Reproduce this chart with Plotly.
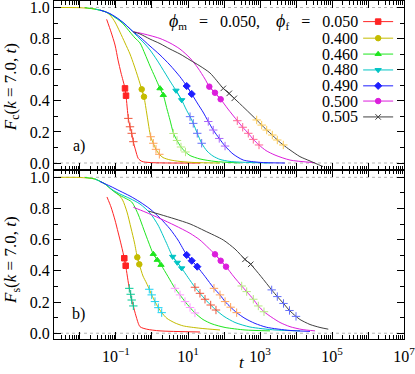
import plotly.graph_objects as go

# ---------------------------------------------------------------------------
# Values.
# For every series: time t, correlator F, indices of the filled symbols,
# indices of the thin "+" marks.
# ---------------------------------------------------------------------------

# ---- panel a) coherent F_c(k=7.0, t) ----
RED_A_T = [0.055, 0.073, 0.094, 0.114, 0.138, 0.178, 0.190, 0.220, 0.245, 0.273, 0.303,
           0.348, 0.416, 0.527, 0.880, 3.16, 21.5]
RED_A_F = [0.924, 0.842, 0.759, 0.662, 0.579, 0.480, 0.433, 0.287, 0.233, 0.191, 0.137,
           0.084, 0.029, 0.010, 0.003, 0.0, 0.0]
RED_A_MARK = [5, 6]
RED_A_PLUS = [7, 8, 9, 10]

YEL_A_T = [0.00245, 0.01, 0.0261, 0.0495, 0.0681, 0.0938, 0.129, 0.178, 0.245, 0.316, 0.416,
           0.518, 0.599, 0.726, 0.920, 1.087, 1.29, 1.60, 2.02, 3.16, 5.99, 15.6, 77.4]
YEL_A_F = [1.0, 0.999, 0.990, 0.974, 0.952, 0.907, 0.842, 0.772, 0.701, 0.630, 0.546,
           0.474, 0.426, 0.309, 0.169, 0.127, 0.088, 0.056, 0.035, 0.020, 0.010, 0.003, 0.0]
YEL_A_MARK = [11, 12]
YEL_A_PLUS = [14, 15, 16, 17]

GRN_A_T = [0.0138, 0.0261, 0.0495, 0.0681, 0.0938, 0.129, 0.178, 0.245, 0.337, 0.464, 0.639,
           0.880, 1.21, 1.67, 2.06, 2.61, 3.16, 3.96, 4.95, 6.38, 8.51, 11.4, 21.5, 56.2, 278]
GRN_A_F = [0.999, 0.990, 0.974, 0.958, 0.936, 0.913, 0.881, 0.842, 0.804, 0.772, 0.701,
           0.624, 0.553, 0.480, 0.437, 0.347, 0.277, 0.190, 0.145, 0.103, 0.071, 0.048,
           0.026, 0.010, 0.0]
GRN_A_MARK = [13, 14]
GRN_A_PLUS = [17, 18, 19, 20]

CYA_A_T = [0.0261, 0.0495, 0.0938, 0.178, 0.337, 0.639, 0.880, 1.38, 2.30, 3.16, 4.64, 6.68,
           8.80, 11.4, 14.0, 18.1, 24.0, 33.7, 49.3, 77.4, 147, 527, 1896]
CYA_A_F = [0.990, 0.974, 0.939, 0.894, 0.830, 0.765, 0.727, 0.662, 0.579, 0.527, 0.466, 0.405,
           0.347, 0.298, 0.255, 0.191, 0.127, 0.077, 0.045, 0.023, 0.010, 0.003, 0.0]
CYA_A_MARK = [10, 11]
CYA_A_PLUS = [13, 14, 15, 16]

BLU_A_T = [0.0359, 0.0681, 0.129, 0.303, 0.464, 0.880, 1.67, 3.16, 5.99, 9.20, 12.7, 18.9,
           26.1, 36.6, 50.3, 73.8, 107, 178, 344, 1000, 4920]
BLU_A_F = [0.984, 0.961, 0.920, 0.844, 0.810, 0.752, 0.695, 0.630, 0.555, 0.495, 0.444, 0.379,
           0.328, 0.267, 0.212, 0.158, 0.109, 0.058, 0.019, 0.004, 0.0]
BLU_A_MARK = [9, 10]
BLU_A_PLUS = [13, 14, 15, 16]

MAG_A_T = [0.303, 0.464, 0.880, 1.67, 3.16, 5.99, 11.4, 18.9, 29.7, 39.1, 56.2, 80.9, 129,
           234, 331, 473, 652, 938, 1468, 2610, 6813, 33700]
MAG_A_F = [0.844, 0.836, 0.820, 0.801, 0.772, 0.733, 0.675, 0.611, 0.540, 0.491, 0.452, 0.410,
           0.347, 0.272, 0.230, 0.191, 0.152, 0.116, 0.080, 0.051, 0.019, 0.002]
MAG_A_MARK = [9, 10, 11]
MAG_A_PLUS = [13, 14, 15, 16, 17]

BLK_A_T = [0.303, 0.464, 0.880, 1.67, 3.16, 5.99, 11.4, 21.5, 40.8, 95.6, 140, 193, 383, 809,
           1114, 1535, 2197, 3027, 4437, 6813, 12900, 24500, 56200]
BLK_A_F = [0.844, 0.830, 0.797, 0.768, 0.733, 0.701, 0.662, 0.624, 0.579, 0.480, 0.448, 0.416,
           0.350, 0.277, 0.244, 0.212, 0.180, 0.148, 0.116, 0.084, 0.041, 0.013, -0.023]
BLK_A_MARK = [9, 10, 11]
BLK_A_PLUS = [13, 14, 15, 16, 17, 18]

# ---- panel b) self part F_s(k=7.0, t) ----
RED_B_T = [0.0562, 0.0726, 0.0938, 0.114, 0.142, 0.170, 0.186, 0.234, 0.256, 0.273, 0.303,
           0.359, 0.464, 0.713, 1.67, 21.5]
RED_B_F = [0.874, 0.810, 0.726, 0.649, 0.560, 0.481, 0.433, 0.288, 0.250, 0.213, 0.175,
           0.111, 0.042, 0.026, 0.015, 0.008]
RED_B_MARK = [5, 6]
RED_B_PLUS = [7, 8, 9, 10]

YEL_B_T = [0.00245, 0.01, 0.0261, 0.0495, 0.0774, 0.114, 0.153, 0.202, 0.261, 0.327, 0.391,
           0.444, 0.562, 0.703, 0.841, 0.981, 1.21, 1.50, 1.86, 2.61, 4.35, 7.40, 21.5, 77.4]
YEL_B_F = [1.0, 0.999, 0.989, 0.957, 0.919, 0.893, 0.854, 0.778, 0.675, 0.579, 0.487,
           0.442, 0.367, 0.322, 0.282, 0.246, 0.203, 0.164, 0.132, 0.095, 0.066, 0.047,
           0.032, 0.021]
YEL_B_MARK = [10, 11]
YEL_B_PLUS = [14, 15, 16, 17, 18]

GRN_B_T = [0.0138, 0.0261, 0.0495, 0.0774, 0.114, 0.178, 0.273, 0.409, 0.599, 0.799, 1.087,
           1.40, 1.78, 2.78, 4.35, 5.99, 8.25, 11.4, 15.6, 26.1, 46.4, 107, 383, 1896]
GRN_B_F = [0.999, 0.989, 0.957, 0.919, 0.890, 0.867, 0.842, 0.765, 0.662, 0.585, 0.508,
           0.470, 0.438, 0.364, 0.288, 0.246, 0.203, 0.165, 0.130, 0.088, 0.060, 0.037,
           0.021, 0.015]
GRN_B_MARK = [10, 11, 12]
GRN_B_PLUS = [14, 15, 16, 17, 18]

CYA_B_T = [0.0261, 0.0495, 0.0774, 0.129, 0.245, 0.464, 0.880, 1.47, 2.45, 3.76, 5.04, 6.68,
           10.0, 15.6, 21.5, 29.7, 42.7, 59.9, 100, 202, 528, 2610, 12900]
CYA_B_F = [0.989, 0.957, 0.922, 0.893, 0.864, 0.829, 0.771, 0.694, 0.585, 0.491, 0.453, 0.417,
           0.358, 0.295, 0.256, 0.218, 0.181, 0.149, 0.108, 0.069, 0.040, 0.021, 0.015]
CYA_B_MARK = [9, 10, 11]
CYA_B_PLUS = [13, 14, 15, 16, 17]

BLU_B_T = [0.0359, 0.0681, 0.129, 0.245, 0.464, 0.880, 1.67, 3.16, 5.27, 9.20, 12.7, 18.1,
           29.7, 52.7, 77.4, 107, 153, 225, 383, 726, 1535, 6813, 24500]
BLU_B_F = [0.973, 0.944, 0.912, 0.880, 0.842, 0.797, 0.739, 0.669, 0.598, 0.502, 0.465, 0.427,
           0.364, 0.288, 0.246, 0.203, 0.167, 0.132, 0.095, 0.063, 0.038, 0.018, 0.012]
BLU_B_MARK = [9, 10, 11]
BLU_B_PLUS = [13, 14, 15, 16, 17]

MAG_B_T = [0.303, 0.639, 1.67, 4.35, 11.4, 21.5, 35.9, 56.2, 80.9, 114, 190, 310, 427, 652,
           897, 1291, 2154, 3594, 6813, 14700, 33700]
MAG_B_F = [0.808, 0.778, 0.736, 0.691, 0.641, 0.598, 0.550, 0.506, 0.465, 0.427, 0.361, 0.303,
           0.267, 0.218, 0.175, 0.138, 0.101, 0.069, 0.042, 0.024, 0.015]
MAG_B_MARK = [7, 8, 9]
MAG_B_PLUS = [11, 12, 13, 14, 15]

BLK_B_T = [0.789, 1.67, 4.35, 11.4, 29.7, 95.6, 202, 383, 552, 1066, 2113, 3027, 4496, 6596,
           10000, 12900, 24500, 46400, 78900]
BLK_B_F = [0.784, 0.762, 0.733, 0.701, 0.656, 0.598, 0.540, 0.474, 0.442, 0.364, 0.278, 0.235,
           0.191, 0.146, 0.108, 0.088, 0.056, 0.037, 0.026]
BLK_B_MARK = [7, 8]
BLK_B_PLUS = [10, 11, 12, 13, 14]

PHI_M = "0.050"
PHI_F = ["0.050", "0.400", "0.460", "0.480", "0.490", "0.500", "0.505"]

# styles
COLORS = ["#ff2424", "#c4bc00", "#1ee61e", "#00c4c4", "#1e1eff", "#dc1edc", "#404040"]
SYMBOLS = ["square", "circle", "triangle-up", "triangle-down", "diamond", "circle", "x-thin-open"]
FONT = "Liberation Serif"
ROWS_Y = [0.939, 0.890, 0.843, 0.796, 0.749, 0.704, 0.657]   # legend rows (paper coords)

PANEL_A = [
    (RED_A_T, RED_A_F, RED_A_MARK, RED_A_PLUS),
    (YEL_A_T, YEL_A_F, YEL_A_MARK, YEL_A_PLUS),
    (GRN_A_T, GRN_A_F, GRN_A_MARK, GRN_A_PLUS),
    (CYA_A_T, CYA_A_F, CYA_A_MARK, CYA_A_PLUS),
    (BLU_A_T, BLU_A_F, BLU_A_MARK, BLU_A_PLUS),
    (MAG_A_T, MAG_A_F, MAG_A_MARK, MAG_A_PLUS),
    (BLK_A_T, BLK_A_F, BLK_A_MARK, BLK_A_PLUS),
]
PANEL_B = [
    (RED_B_T, RED_B_F, RED_B_MARK, RED_B_PLUS),
    (YEL_B_T, YEL_B_F, YEL_B_MARK, YEL_B_PLUS),
    (GRN_B_T, GRN_B_F, GRN_B_MARK, GRN_B_PLUS),
    (CYA_B_T, CYA_B_F, CYA_B_MARK, CYA_B_PLUS),
    (BLU_B_T, BLU_B_F, BLU_B_MARK, BLU_B_PLUS),
    (MAG_B_T, MAG_B_F, MAG_B_MARK, MAG_B_PLUS),
    (BLK_B_T, BLK_B_F, BLK_B_MARK, BLK_B_PLUS),
]


def legend_id(k):
    return "legend" if k == 0 else "legend%d" % (k + 1)


def add_series(fig, t, f, mark_idx, plus_idx, color, symbol, xa, ya, leg):
    # full curve
    fig.add_trace(go.Scatter(
        x=t, y=f, mode="lines", xaxis=xa, yaxis=ya,
        line=dict(color=color, width=1, shape="spline", smoothing=0.7),
        showlegend=False, hoverinfo="skip"))
    # thin "+" marks along the decay
    fig.add_trace(go.Scatter(
        x=[t[i] for i in plus_idx], y=[f[i] for i in plus_idx],
        mode="markers", xaxis=xa, yaxis=ya,
        marker=dict(symbol="cross-thin-open", size=6, line=dict(color=color, width=1)),
        showlegend=False, hoverinfo="skip"))
    # filled symbols (also the legend key)
    fig.add_trace(go.Scatter(
        x=[t[i] for i in mark_idx], y=[f[i] for i in mark_idx],
        mode="lines+markers", xaxis=xa, yaxis=ya, name="",
        line=dict(color=color, width=1),
        marker=dict(symbol=symbol, size=5.5, color=color, line=dict(color=color, width=1)),
        showlegend=leg is not None, legend=leg or "legend", hoverinfo="skip"))


fig = go.Figure()
for i, (t, f, mk, pl) in enumerate(PANEL_A):
    add_series(fig, t, f, mk, pl, COLORS[i], SYMBOLS[i], "x", "y", legend_id(i))
for i, (t, f, mk, pl) in enumerate(PANEL_B):
    add_series(fig, t, f, mk, pl, COLORS[i], SYMBOLS[i], "x2", "y2", None)

major = [10.0 ** k for k in range(-2, 8)]
major_txt = ["10<sup>%s</sup>" % str(k).replace("-", "\u2212") if k % 2 else "" for k in range(-2, 8)]
minor = [m * 10.0 ** k for k in range(-3, 7) for m in range(2, 10)]

xcommon = dict(
    type="log", range=[-2.722, 7], showline=True, linecolor="black", linewidth=1,
    mirror="ticks", ticks="inside", ticklen=7, tickcolor="black", tickwidth=1,
    tickmode="array", tickvals=major, ticktext=major_txt, showgrid=False, zeroline=False,
    minor=dict(tickvals=minor, ticks="inside", ticklen=4, tickcolor="black", showgrid=False),
    tickfont=dict(family=FONT, size=16, color="black"), automargin=False,
    ticklabeloverflow="allow",
)
ycommon = dict(
    showline=True, linecolor="black", linewidth=1, mirror="ticks", ticks="inside",
    ticklen=7, tickcolor="black", tick0=0, dtick=0.2, tickformat=".1f",
    showgrid=False, zeroline=False, automargin=False, ticklabeloverflow="allow",
    minor=dict(dtick=0.1, ticks="inside", ticklen=4, tickcolor="black", showgrid=False),
    tickfont=dict(family=FONT, size=16, color="black"),
)

fig.update_layout(
    width=415, height=374,
    margin=dict(l=54, r=11, t=1, b=35, autoexpand=False),
    paper_bgcolor="white", plot_bgcolor="white",
    font=dict(family=FONT, size=16, color="black"),
    xaxis=dict(xcommon, domain=[0, 1], anchor="y", showticklabels=False),
    xaxis2=dict(xcommon, domain=[0, 1], anchor="y2", matches="x", ticklabelstandoff=3),
    yaxis=dict(ycommon, domain=[0.5, 1], anchor="x", range=[-0.045, 1.042]),
    yaxis2=dict(ycommon, domain=[0, 0.5], anchor="x2", range=[-0.037, 1.047]),
    showlegend=True,
)
# one single-entry legend per row so the keys line up with the text rows
for k in range(len(PHI_F)):
    fig.update_layout({legend_id(k): dict(
        x=0.869, y=ROWS_Y[k], xanchor="left", yanchor="middle",
        bgcolor="rgba(0,0,0,0)", font=dict(size=10), borderwidth=0)})

# dotted guide lines at 0 and 1
for ya in ["y", "y2"]:
    for lev in [0.0, 1.0]:
        fig.add_shape(type="line", xref="paper", x0=0, x1=1, yref=ya, y0=lev, y1=lev,
                      line=dict(color="#b4b4b4", width=1, dash="dot"), layer="below")

ann = []
# legend labels (text to the left of the keys)
sp = "\u00a0"
phi = '<span style="font-size:18px"><i>\u03d5</i></span>'
for k, val in enumerate(PHI_F):
    if k:
        txt = val
    else:
        txt = ("%s<sub>m</sub>%s=%s%s,%s%s<sub>f</sub>%s=%s%s"
               % (phi, sp * 3, sp * 3, PHI_M, sp * 4, phi, sp * 3, sp * 3, val))
    ann.append(dict(text=txt, x=0.874, y=ROWS_Y[k], xref="paper", yref="paper",
                    xanchor="right", yanchor="middle", showarrow=False,
                    font=dict(family=FONT, size=16)))
# axis titles and panel tags
ann += [
    dict(text="<i>F</i><sub>c</sub>(<i>k</i> = 7.0, <i>t</i>)", x=-0.12, y=0.745,
         xref="paper", yref="paper", textangle=-90, showarrow=False,
         xanchor="center", yanchor="middle", font=dict(family=FONT, size=17)),
    dict(text="<i>F</i><sub>s</sub>(<i>k</i> = 7.0, <i>t</i>)", x=-0.12, y=0.234,
         xref="paper", yref="paper", textangle=-90, showarrow=False,
         xanchor="center", yanchor="middle", font=dict(family=FONT, size=17)),
    dict(text="a)", x=0.070, y=0.571, xref="paper", yref="paper", showarrow=False,
         xanchor="center", yanchor="middle", font=dict(family=FONT, size=16)),
    dict(text="b)", x=0.070, y=0.074, xref="paper", yref="paper", showarrow=False,
         xanchor="center", yanchor="middle", font=dict(family=FONT, size=16)),
    dict(text="<i>t</i>", x=0.537, y=-0.103, xref="paper", yref="paper", showarrow=False,
         xanchor="center", yanchor="bottom", font=dict(family=FONT, size=17)),
]
fig.update_layout(annotations=ann)

# the page's default 8px body margin would shift the whole figure
fig.write_html("out.html", config={"displayModeBar": False},
               post_script="document.body.style.margin='0';")
